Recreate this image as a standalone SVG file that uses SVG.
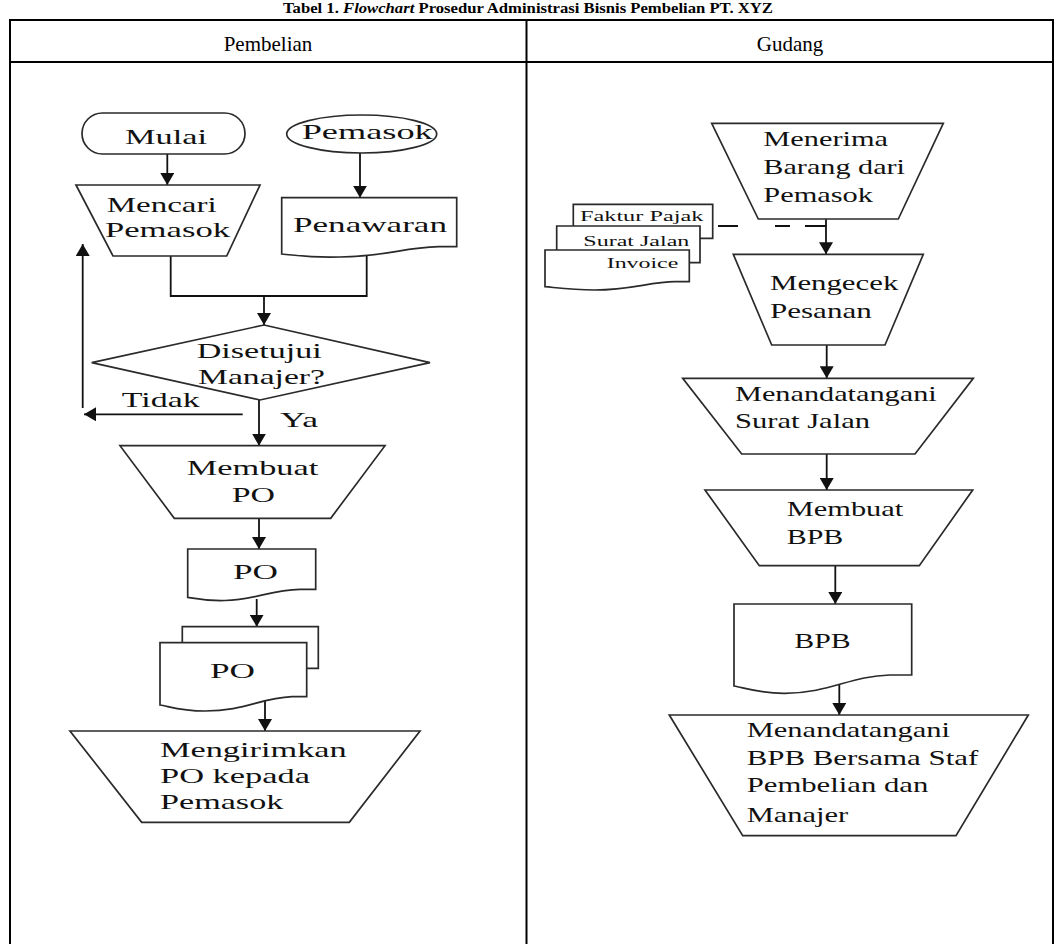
<svg xmlns="http://www.w3.org/2000/svg" width="1063" height="944" viewBox="0 0 1063 944">
<style>
.tb{stroke:#000;stroke-width:2;fill:none}
.sh{fill:#fff;stroke:#2a2a2a;stroke-width:1.7;stroke-linejoin:miter}
.ln{fill:none;stroke:#111;stroke-width:1.8}
.ar{fill:none;stroke:#111;stroke-width:1.8;marker-end:url(#ah)}
.t{font-family:"Liberation Serif","Times New Roman",serif;font-size:21px;fill:#111}
.s{font-family:"Liberation Serif","Times New Roman",serif;font-size:15px;fill:#111}
.h{font-family:"Liberation Serif","Times New Roman",serif;font-size:21px;fill:#000;text-anchor:middle}
.ti{font-family:"Liberation Serif","Times New Roman",serif;font-size:15.5px;font-weight:bold;fill:#000;text-anchor:middle}
</style>
<defs>
<marker id="ah" markerUnits="userSpaceOnUse" markerWidth="14" markerHeight="14" refX="12" refY="7" orient="auto">
<path d="M0,0 L12,7 L0,14 z" fill="#111"/>
</marker>
</defs>
<rect width="1063" height="944" fill="#fff"/>
<g id="table">
<text class="ti" x="528" y="13" textLength="490" lengthAdjust="spacingAndGlyphs">Tabel 1. <tspan font-style="italic">Flowchart</tspan> Prosedur Administrasi Bisnis Pembelian PT. XYZ</text>
<line class="tb" x1="9" y1="20" x2="1054" y2="20"/>
<line class="tb" x1="9" y1="62" x2="1054" y2="62"/>
<line class="tb" x1="10" y1="19" x2="10" y2="944"/>
<line class="tb" x1="526.5" y1="19" x2="526.5" y2="944"/>
<line class="tb" x1="1053" y1="19" x2="1053" y2="944"/>
<text class="h" x="268" y="51">Pembelian</text>
<text class="h" x="790" y="51">Gudang</text>
</g>
<g id="connectors">
<line class="ar" x1="167.3" y1="154" x2="167.3" y2="185"/>
<line class="ar" x1="360" y1="153" x2="360" y2="197.7"/>
<polyline class="ln" points="170.7,256 170.7,296 366.7,296 366.7,249"/>
<line class="ar" x1="264" y1="296" x2="264" y2="325"/>
<line class="ar" x1="82.7" y1="408" x2="82.7" y2="244"/>
<line class="ar" x1="242.7" y1="414.3" x2="84" y2="414.3"/>
<line class="ar" x1="259" y1="400" x2="259" y2="445.7"/>
<line class="ar" x1="259" y1="518.3" x2="259" y2="549"/>
<line class="ar" x1="256.7" y1="599" x2="256.7" y2="626.7"/>
<line class="ar" x1="265" y1="699" x2="265" y2="731"/>
<line class="ar" x1="826" y1="219" x2="826" y2="254.3"/>
<path class="ln" d="M718,226 H738 M775,226 H790 M805,226 H826"/>
<line class="ar" x1="826.7" y1="345" x2="826.7" y2="378.3"/>
<line class="ar" x1="826.7" y1="454" x2="826.7" y2="490"/>
<line class="ar" x1="835.3" y1="565.7" x2="835.3" y2="604"/>
<line class="ar" x1="839.3" y1="682" x2="839.3" y2="715"/>
</g>
<g id="mulai">
<rect class="sh" x="82" y="113" width="163" height="41" rx="20.5"/>
<text class="t" x="125" y="144" textLength="82" lengthAdjust="spacingAndGlyphs">Mulai</text>
</g>
<g id="pemasok">
<ellipse class="sh" cx="361.7" cy="134" rx="75" ry="19"/>
<text class="t" x="301.7" y="139" textLength="131" lengthAdjust="spacingAndGlyphs">Pemasok</text>
</g>
<g id="mencari">
<polygon class="sh" points="76,185 260,185 226.7,256 113,256"/>
<text class="t" x="106.7" y="211.7" textLength="110" lengthAdjust="spacingAndGlyphs">Mencari</text>
<text class="t" x="105" y="236.7" textLength="125" lengthAdjust="spacingAndGlyphs">Pemasok</text>
</g>
<g id="penawaran">
<path class="sh" d="M281.7,197.7 H456.7 V246.7 H439 C400,248 390,256 340,257 C310,258 295,255 281.7,254 Z"/>
<text class="t" x="293" y="232" textLength="154" lengthAdjust="spacingAndGlyphs">Penawaran</text>
</g>
<g id="disetujui">
<polygon class="sh" points="264,325 430,362.7 260,400 91.7,362.7"/>
<text class="t" x="196.7" y="358" textLength="125" lengthAdjust="spacingAndGlyphs">Disetujui</text>
<text class="t" x="198" y="384" textLength="127" lengthAdjust="spacingAndGlyphs">Manajer?</text>
</g>
<g id="label-tidak">
<text class="t" x="121.7" y="407" textLength="78" lengthAdjust="spacingAndGlyphs">Tidak</text>
</g>
<g id="label-ya">
<text class="t" x="280" y="426.7" textLength="38" lengthAdjust="spacingAndGlyphs">Ya</text>
</g>
<g id="membuat-po">
<polygon class="sh" points="120,445.7 385,445.7 330.7,518.3 174.3,518.3"/>
<text class="t" x="186.7" y="475" textLength="131.6" lengthAdjust="spacingAndGlyphs">Membuat</text>
<text class="t" x="231.7" y="501.7" textLength="43.3" lengthAdjust="spacingAndGlyphs">PO</text>
</g>
<g id="po-doc">
<path class="sh" d="M187.7,549 H315.7 V589.3 H300 C270,590 255,600 225,600.5 C205,601 195,598.5 187.7,597.3 Z"/>
<text class="t" x="233" y="579" textLength="45" lengthAdjust="spacingAndGlyphs">PO</text>
</g>
<g id="po-multi">
<path class="sh" d="M182.3,642.7 V626.7 H318.3 V668.3 H306.7"/>
<path class="sh" d="M160,642.7 H306.7 V696.7 H292 C260,698 245,711 205,711 C180,711 168,706 160,705 Z"/>
<text class="t" x="210" y="678.3" textLength="45" lengthAdjust="spacingAndGlyphs">PO</text>
</g>
<g id="mengirimkan">
<polygon class="sh" points="70,731 420,731 349.3,822.3 141.7,822.3"/>
<text class="t" x="160" y="756.7" textLength="186.7" lengthAdjust="spacingAndGlyphs">Mengirimkan</text>
<text class="t" x="160" y="783.3" textLength="150" lengthAdjust="spacingAndGlyphs">PO kepada</text>
<text class="t" x="160" y="809" textLength="123.3" lengthAdjust="spacingAndGlyphs">Pemasok</text>
</g>
<g id="menerima">
<polygon class="sh" points="711.7,123.3 943.3,123.3 898.3,219 758.3,219"/>
<text class="t" x="763.3" y="145.7" textLength="124.7" lengthAdjust="spacingAndGlyphs">Menerima</text>
<text class="t" x="763.3" y="174" textLength="141.7" lengthAdjust="spacingAndGlyphs">Barang dari</text>
<text class="t" x="763.3" y="202.3" textLength="109.7" lengthAdjust="spacingAndGlyphs">Pemasok</text>
</g>
<g id="dokumen">
<path class="sh" d="M573.3,226 V204.3 H712.7 V238.3 H700"/>
<path class="sh" d="M556.7,250 V226 H700 V262.7 H689.3"/>
<path class="sh" d="M545,250 H689.3 V281.7 H675 C650,282 630,290 595,290 C570,290 555,287.5 545,286.7 Z"/>
<text class="s" x="580" y="220.7" textLength="123.3" lengthAdjust="spacingAndGlyphs">Faktur Pajak</text>
<text class="s" x="583.3" y="245.7" textLength="106" lengthAdjust="spacingAndGlyphs">Surat Jalan</text>
<text class="s" x="606.7" y="268.3" textLength="71.6" lengthAdjust="spacingAndGlyphs">Invoice</text>
</g>
<g id="mengecek">
<polygon class="sh" points="733.3,254.3 923.3,254.3 885,345 771.7,345"/>
<text class="t" x="770" y="290" textLength="128.3" lengthAdjust="spacingAndGlyphs">Mengecek</text>
<text class="t" x="770" y="318.3" textLength="101.7" lengthAdjust="spacingAndGlyphs">Pesanan</text>
</g>
<g id="ttd-surat-jalan">
<polygon class="sh" points="682.7,378.3 973.3,378.3 915,454 741.7,454"/>
<text class="t" x="735" y="401" textLength="201.7" lengthAdjust="spacingAndGlyphs">Menandatangani</text>
<text class="t" x="735" y="428.3" textLength="135" lengthAdjust="spacingAndGlyphs">Surat Jalan</text>
</g>
<g id="membuat-bpb">
<polygon class="sh" points="705,490 972.7,490 919.3,565.7 759.3,565.7"/>
<text class="t" x="786.7" y="515.7" textLength="116.6" lengthAdjust="spacingAndGlyphs">Membuat</text>
<text class="t" x="786.7" y="544.3" textLength="56.6" lengthAdjust="spacingAndGlyphs">BPB</text>
</g>
<g id="bpb-doc">
<path class="sh" d="M734,604 H911.7 V675 H890 C850,676 830,693 785,693.3 C760,693.5 745,688 734,686 Z"/>
<text class="t" x="794.3" y="648.3" textLength="56.4" lengthAdjust="spacingAndGlyphs">BPB</text>
</g>
<g id="ttd-bpb">
<polygon class="sh" points="669.3,715 1028.3,715 956,835.7 742.7,835.7"/>
<text class="t" x="746.7" y="737.3" textLength="203.3" lengthAdjust="spacingAndGlyphs">Menandatangani</text>
<text class="t" x="746.7" y="765" textLength="231.6" lengthAdjust="spacingAndGlyphs">BPB Bersama Staf</text>
<text class="t" x="746.7" y="792.3" textLength="181.6" lengthAdjust="spacingAndGlyphs">Pembelian dan</text>
<text class="t" x="746.7" y="821.7" textLength="101.6" lengthAdjust="spacingAndGlyphs">Manajer</text>
</g>
</svg>
